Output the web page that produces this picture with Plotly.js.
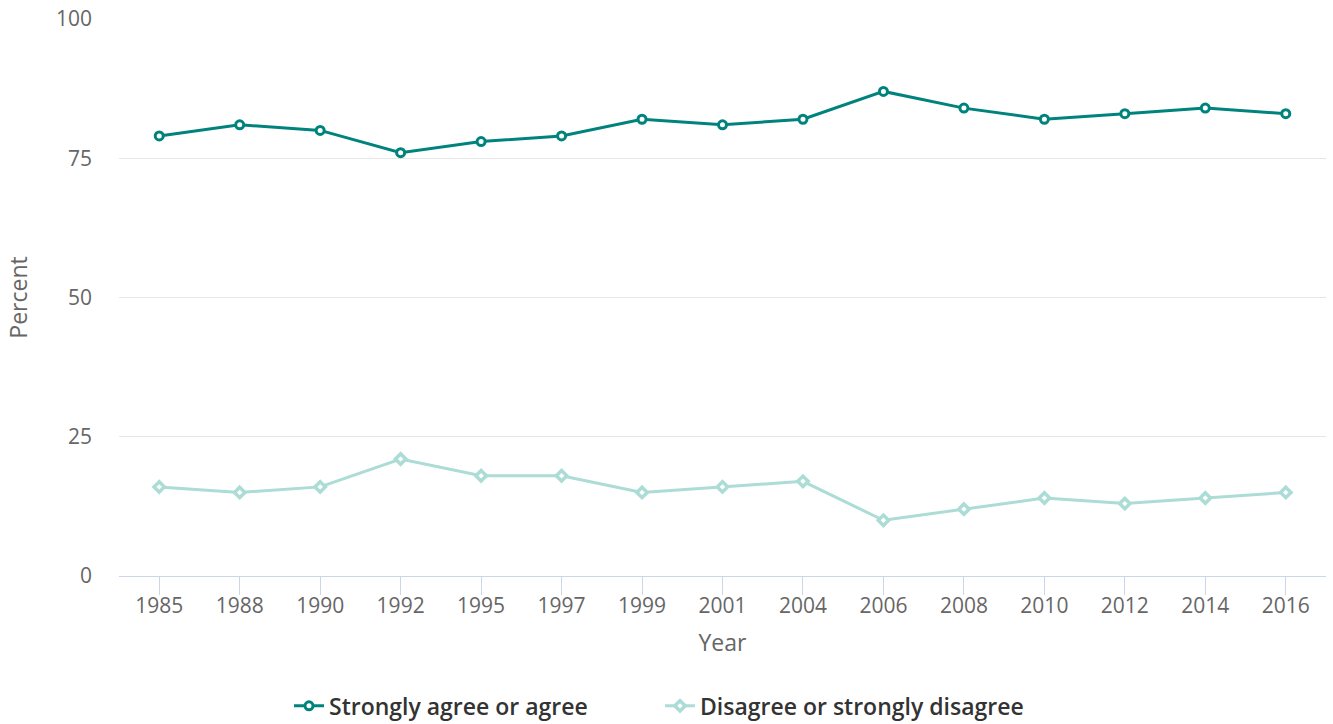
<!DOCTYPE html>
<html>
<head>
<meta charset="utf-8">
<script src="https://cdn.plot.ly/plotly-3.0.1.min.js"></script>
<style>html,body{margin:0;padding:0;background:#fff;}#chart{width:1333px;height:724px;}</style>
</head>
<body>
<div id="chart"></div>
<script>
var years = ["1985","1988","1990","1992","1995","1997","1999","2001","2004","2006","2008","2010","2012","2014","2016"];
var agree = [79,81,80,76,78,79,82,81,82,87,84,82,83,84,83];
var disagree = [16,15,16,21,18,18,15,16,17,10,12,14,13,14,15];
var seriesNames = ["Strongly agree or agree","Disagree or strongly disagree"];
var yTicks = [0,25,50,75,100];

var traces = [
  {x: years, y: agree, name: seriesNames[0], type: 'scatter', mode: 'lines+markers',
   line: {color: '#00837d', width: 3},
   marker: {symbol: 'circle', size: 8, color: '#ffffff', line: {color: '#00837d', width: 3}}},
  {x: years, y: disagree, name: seriesNames[1], type: 'scatter', mode: 'lines+markers',
   line: {color: '#acdcd6', width: 3},
   marker: {symbol: 'diamond', size: 8, color: '#ffffff', line: {color: '#acdcd6', width: 3.5}}}
];

var layout = {
  width: 1333, height: 724,
  margin: {l: 119, r: 7, t: 19, b: 148},
  paper_bgcolor: '#ffffff', plot_bgcolor: '#ffffff',
  font: {family: '"Open Sans", sans-serif', color: '#666666'},
  showlegend: true,
  hovermode: false,
  xaxis: {
    type: 'category', range: [-0.5, 14.5],
    showgrid: false, zeroline: false,
    showline: true, linecolor: '#ccd6eb', linewidth: 1,
    ticks: 'outside', ticklen: 18, tickcolor: '#ccd6eb', tickwidth: 1,
    ticklabelstandoff: -7,
    tickfont: {size: 21, color: '#666666'},
    title: {text: 'Year', font: {size: 23, color: '#666666'}, standoff: 16}
  },
  yaxis: {
    range: [0, 100], tickvals: yTicks, ticktext: yTicks.map(String),
    showgrid: true, gridcolor: '#e6e6e6', gridwidth: 1,
    zeroline: false, showline: false, ticks: '',
    ticklabelstandoff: 26,
    tickfont: {size: 21, color: '#666666'},
    title: {text: 'Percent', font: {size: 23, color: '#666666'}, standoff: 21}
  },
  legend: {
    orientation: 'h', xref: 'container', yref: 'container',
    x: 289/1333, xanchor: 'left', y: 0.025, yanchor: 'middle',
    font: {size: 23, color: '#333333', weight: 600},
    itemwidth: 30, tracegroupgap: 0, entrywidth: 326
  }
};

Plotly.newPlot('chart', traces, layout, {displayModeBar: false, staticPlot: true});
</script>
</body>
</html>
